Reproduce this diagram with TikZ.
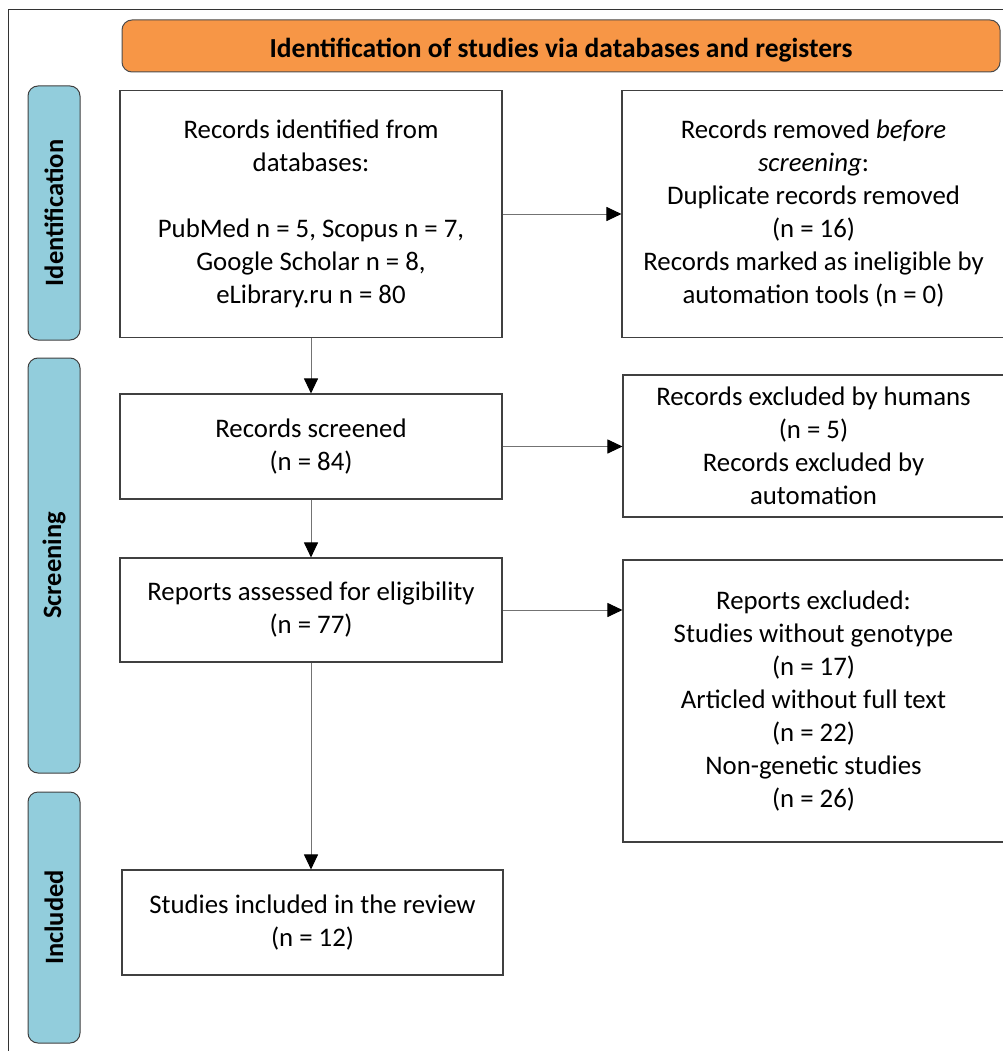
\documentclass[tikz,border=0pt]{standalone}
\usepackage{fontspec}
\setmainfont{Carlito}
\usetikzlibrary{arrows.meta}
\definecolor{hdrorange}{HTML}{F79646}
\definecolor{barblue}{HTML}{92CDDC}
\begin{document}
\begin{tikzpicture}[x=1pt,y=-1pt,
  box/.style={draw=black!75, line width=1.1pt, fill=white, align=center,
    font=\fontsize{26.8}{33}\selectfont, inner sep=0pt},
  bar/.style={draw=black!75, line width=1pt, fill=barblue, rounded corners=10pt,
    inner sep=0pt, rotate=90, font=\bfseries\fontsize{26.5}{30}\selectfont},
  conn/.style={draw=black!55, line width=1pt, -{Triangle[length=15pt,width=14pt,color=black]}},
]
\useasboundingbox (0,0) rectangle (1002,1051);
% outer frame
\coordinate (fbl) at (8,1060);
\coordinate (ftl) at (8,10);
\coordinate (ftr) at (1010,10);
\draw[black!80, line width=1pt] (fbl) -- (ftl) -- (ftr);
% header
\node[draw=black!70, line width=1pt, fill=hdrorange, rounded corners=10pt,
  minimum width=878pt, minimum height=52pt, inner sep=0pt] (hdr) at (561,46) {};
\node[anchor=base, font=\bfseries\fontsize{27.5}{30}\selectfont, inner sep=0pt] (hdrt) at (561,58)
  {Identification of studies via databases and registers};
% phase bars
\node[bar, minimum width=254pt, minimum height=52pt] (p1) at (54,213) {Identification};
\node[bar, minimum width=415pt, minimum height=52pt] (p2) at (54,565.5) {Screening};
\node[bar, minimum width=251pt, minimum height=52pt] (p3) at (54,917.5) {Included};
% boxes
\node[box, minimum width=382pt, minimum height=247pt] (b1) at (311,214)
  {Records identified from\\databases:\\[33pt]PubMed n = 5, Scopus n = 7,\\Google Scholar n = 8,\\eLibrary.ru n = 80};
\node[box, minimum width=383pt, minimum height=247pt] (b2) at (813.5,214)
  {Records removed \textit{before}\\\textit{screening}:\\Duplicate records removed\\(n = 16)\\Records marked as ineligible by\\automation tools (n = 0)};
\node[box, minimum width=382pt, minimum height=105pt] (b3) at (311,446.5)
  {Records screened\\(n = 84)};
\node[box, minimum width=381pt, minimum height=142pt] (b4) at (813.5,446)
  {Records excluded by humans\\(n = 5)\\Records excluded by\\automation};
\node[box, minimum width=382pt, minimum height=104pt] (b5) at (311,610)
  {Reports assessed for eligibility\\(n = 77)};
\node[box, minimum width=381pt, minimum height=282pt] (b6) at (813.5,701)
  {Reports excluded:\\Studies without genotype\\(n = 17)\\Articled without full text\\(n = 22)\\Non-genetic studies\\(n = 26)};
\node[box, minimum width=381pt, minimum height=105pt] (b7) at (312.5,922.5)
  {Studies included in the review\\(n = 12)};
% connectors
\draw[conn] (b1.east) -- (b2.west |- b1.east);
\draw[conn] (b3.east) -- (b4.west |- b3.east);
\draw[conn] (b5.east) -- (b6.west |- b5.east);
\draw[conn] (b1.south) -- (b1.south |- b3.north);
\draw[conn] (b3.south) -- (b3.south |- b5.north);
\draw[conn] (b5.south) -- (b5.south |- b7.north);
\end{tikzpicture}
\end{document}
